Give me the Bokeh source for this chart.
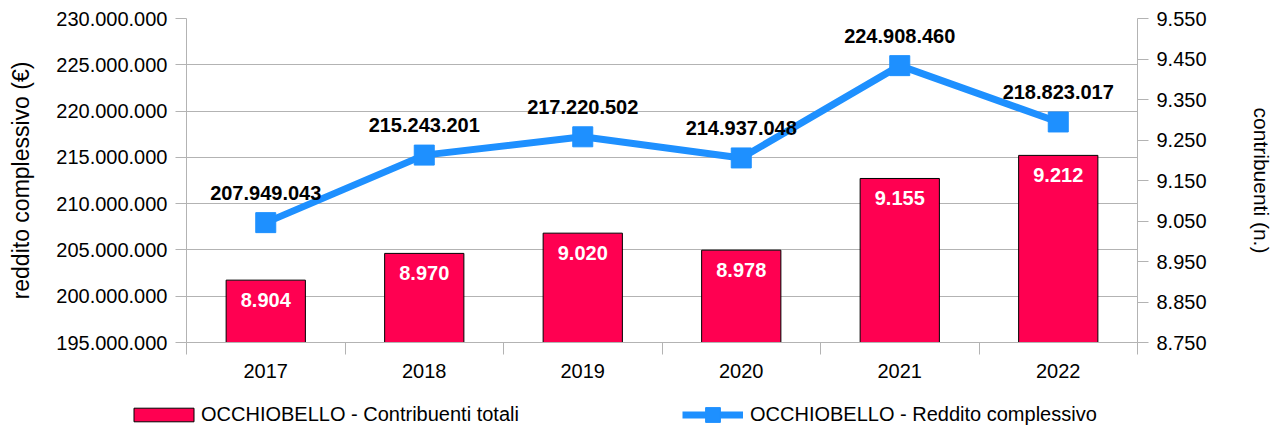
from bokeh.plotting import figure
from bokeh.models import (Range1d, LinearAxis, FixedTicker, CustomJSTickFormatter,
                          Legend, LegendItem, ColumnDataSource, LabelSet)
from bokeh.core.properties import value
from bokeh.embed import file_html
from bokeh.resources import INLINE

years = ["2017", "2018", "2019", "2020", "2021", "2022"]
contribuenti = [8904, 8970, 9020, 8978, 9155, 9212]
reddito = [207949043, 215243201, 217220502, 214937048, 224908460, 218823017]
left_ticks = [195000000, 200000000, 205000000, 210000000, 215000000,
              220000000, 225000000, 230000000]
right_ticks = [8750, 8850, 8950, 9050, 9150, 9250, 9350, 9450, 9550]
bar_name = "OCCHIOBELLO - Contribuenti totali"
line_name = "OCCHIOBELLO - Reddito complessivo"

FONT = "Liberation Sans"
BAR_COLOR = "#ff0051"
LINE_COLOR = "#1e90ff"
GRID = "#b3b3b3"
W = 1275


def fmt(v):
    return f"{v:,}".replace(",", ".")


xs = [i + 0.5 for i in range(len(years))]
src = ColumnDataSource(dict(
    x=xs, c=contribuenti, r=reddito,
    c_lbl=[fmt(v) for v in contribuenti],
    r_lbl=[fmt(v) for v in reddito],
))

p = figure(width=W, height=390, output_backend="svg", toolbar_location=None,
           x_range=Range1d(0, len(years)),
           y_range=Range1d(left_ticks[0], left_ticks[-1]),
           min_border_left=186, min_border_right=136,
           min_border_top=18, min_border_bottom=48)
p.outline_line_color = None
p.extra_y_ranges = {"y2": Range1d(right_ticks[0], right_ticks[-1])}

# grid
p.xgrid.visible = False
p.ygrid.ticker = FixedTicker(ticks=left_ticks)
p.ygrid.grid_line_color = GRID
p.ygrid.grid_line_width = 1

js_fmt = r"return Math.round(tick).toString().replace(/\B(?=(\d{3})+(?!\d))/g, '.');"


def style_axis(ax):
    ax.axis_label_text_font = FONT
    ax.axis_label_text_font_style = "normal"
    ax.axis_label_text_color = "#000000"
    ax.major_label_text_font = FONT
    ax.major_label_text_font_size = "20px"
    ax.major_label_text_color = "#000000"
    ax.axis_line_color = GRID


# left axis
ly = p.yaxis[0]
style_axis(ly)
ly.ticker = FixedTicker(ticks=left_ticks)
ly.formatter = CustomJSTickFormatter(code=js_fmt)
ly.axis_label = "reddito complessivo (€)"
ly.axis_label_text_font_size = "23px"
ly.axis_label_standoff = 19
ly.major_label_standoff = 8
ly.major_tick_out = 11
ly.major_tick_in = 0
ly.minor_tick_line_color = None
ly.major_tick_line_color = GRID

# right axis
ry = LinearAxis(y_range_name="y2", ticker=FixedTicker(ticks=right_ticks),
                formatter=CustomJSTickFormatter(code=js_fmt))
style_axis(ry)
ry.axis_label = "contribuenti (n.)"
ry.axis_label_text_font_size = "21px"
ry.axis_label_standoff = 40
ry.major_label_standoff = 8
ry.major_tick_out = 11
ry.major_tick_in = 0
ry.minor_tick_line_color = None
ry.major_tick_line_color = GRID
p.add_layout(ry, "right")

# x axis
xa = p.xaxis[0]
style_axis(xa)
xa.ticker = FixedTicker(ticks=xs, minor_ticks=list(range(len(years) + 1)))
xa.major_label_overrides = {x: y for x, y in zip(xs, years)}
xa.major_label_standoff = 9
xa.major_tick_out = 0
xa.major_tick_in = 0
xa.minor_tick_out = 12
xa.minor_tick_in = 0
xa.minor_tick_line_color = GRID

# glyphs
bar_kw = dict(fill_color=BAR_COLOR, line_color="#000000", line_width=1)
line_kw = dict(line_color=LINE_COLOR, line_width=7)
mark_kw = dict(marker="square", fill_color=LINE_COLOR, line_color=LINE_COLOR)

p.vbar(x="x", top="c", bottom=right_ticks[0], width=0.5, y_range_name="y2",
       source=src, **bar_kw)
p.line("x", "r", source=src, **line_kw)
p.scatter("x", "r", size=20, source=src, **mark_kw)

p.add_layout(LabelSet(x="x", y="c", text="c_lbl", y_range_name="y2", source=src,
                      text_color="white", text_font=value(FONT),
                      text_font_style="bold", text_font_size="20px",
                      text_align="center", text_baseline="middle", y_offset=-20))
p.add_layout(LabelSet(x="x", y="r", text="r_lbl", source=src,
                      text_color="#000000", text_font=value(FONT),
                      text_font_style="bold", text_font_size="20px",
                      text_align="center", text_baseline="middle", y_offset=30))

# legend strip: a second root below the chart; its renderers reuse the data
# but lie far outside this strip's ranges, so only the legend is visible
lg = figure(width=W, height=36, output_backend="svg", toolbar_location=None,
            x_range=Range1d(-50, -49), y_range=Range1d(-50, -49),
            x_axis_location=None, y_axis_location=None,
            min_border_left=0, min_border_right=0, min_border_top=0,
            min_border_bottom=0)
lg.outline_line_color = None
lg.xgrid.visible = False
lg.ygrid.visible = False
pb = lg.vbar(x="x", top="c", bottom=right_ticks[0], width=0.5, source=src, **bar_kw)
pl = lg.line("x", "r", source=src, **line_kw)
ps = lg.scatter("x", "r", size=20, source=src, **mark_kw)

leg_common = dict(padding=0, margin=0, border_line_color=None,
                  background_fill_alpha=0, label_text_font=FONT,
                  label_text_font_size="20px", label_text_color="#000000")
leg1 = Legend(items=[LegendItem(label=bar_name, renderers=[pb], index=0)],
              location=(126, 0), glyph_width=75, glyph_height=17,
              label_standoff=0, **leg_common)
leg2 = Legend(items=[LegendItem(label=line_name, renderers=[pl, ps], index=0)],
              location=(682, -7), glyph_width=61, glyph_height=37,
              label_standoff=7, **leg_common)
lg.add_layout(leg1)
lg.add_layout(leg2)

open("out.html", "w").write(file_html((p, lg), INLINE))
